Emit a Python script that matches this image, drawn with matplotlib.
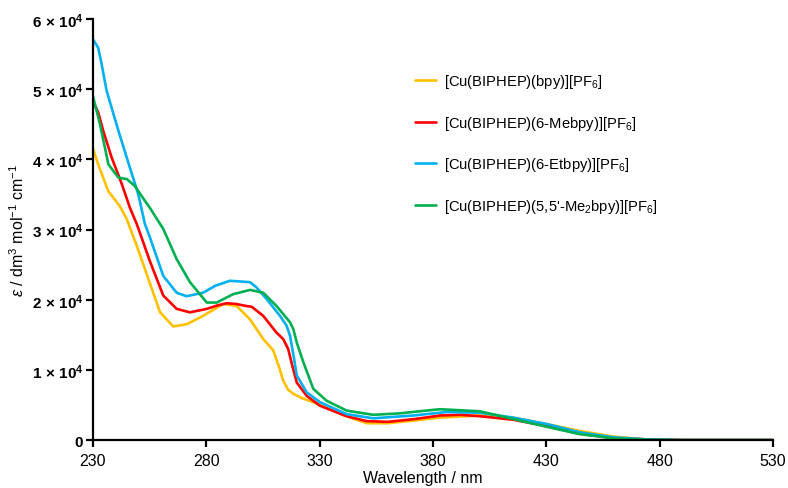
import matplotlib
matplotlib.use("Agg")
import matplotlib.pyplot as plt
import numpy as np

plt.rcParams['font.family'] = ['Liberation Sans', 'DejaVu Sans']
plt.rcParams['mathtext.fontset'] = 'custom'
plt.rcParams['mathtext.rm'] = 'Liberation Sans'
plt.rcParams['mathtext.it'] = 'Liberation Sans:italic'
plt.rcParams['mathtext.bf'] = 'Liberation Sans:bold'

labels = [
    "[Cu(BIPHEP)(bpy)][PF$_6$]",
    "[Cu(BIPHEP)(6-Mebpy)][PF$_6$]",
    "[Cu(BIPHEP)(6-Etbpy)][PF$_6$]",
    "[Cu(BIPHEP)(5,5'-Me$_2$bpy)][PF$_6$]",
]
colors = ['#FFC000', '#FF0000', '#00B0F0', '#00B050']

wl_bpy = [230, 232.3, 236.7, 241.9, 244.9, 249.3, 254.5, 259.6, 265.4, 271.3, 278.6, 287.5, 293.4, 299.3,
          305.1, 309.5, 312, 313.9, 316, 318.4, 322, 327.2, 340, 350.8, 360, 372, 383, 400.7, 415.4, 430,
          444.8, 459.5, 474, 490, 530]
eps_bpy = [4.15, 3.93, 3.55, 3.33, 3.15, 2.77, 2.29, 1.82, 1.62, 1.65, 1.77, 1.94, 1.91, 1.72,
           1.44, 1.28, 1.05, 0.85, 0.72, 0.66, 0.60, 0.54, 0.36, 0.24, 0.24, 0.28, 0.32, 0.35, 0.32, 0.23,
           0.13, 0.05, 0.01, 0, 0]

wl_me = [230, 232.3, 234.5, 238.2, 242.7, 246.3, 249.3, 255.1, 261, 266.9, 272.8, 280.2, 285, 289, 293,
         297.8, 300, 305.1, 311, 313.9, 316.1, 318, 319.9, 324.3, 330.1, 341.9, 350.8, 360, 372, 383,
         392, 400.7, 415.4, 430, 444.8, 459.5, 474, 490, 530]
eps_me = [4.83, 4.67, 4.41, 4.03, 3.65, 3.31, 3.08, 2.55, 2.06, 1.87, 1.82, 1.87, 1.92, 1.95, 1.94,
          1.91, 1.90, 1.77, 1.53, 1.44, 1.30, 1.05, 0.82, 0.63, 0.49, 0.34, 0.27, 0.26, 0.30, 0.35,
          0.36, 0.34, 0.29, 0.20, 0.09, 0.03, 0.01, 0, 0]

wl_et = [230, 232.3, 233.8, 236, 241.2, 246.3, 250, 252.9, 255.1, 261, 266.9, 271.3, 278.6, 284, 290.4,
         295, 299.3, 302, 306.6, 312.5, 315.4, 316.9, 318.5, 319.9, 324.3, 330.1, 341.9, 353.6, 371.3,
         386, 400.7, 415.4, 430, 444.8, 459.5, 474, 490, 530]
eps_et = [5.71, 5.59, 5.36, 4.98, 4.41, 3.88, 3.50, 3.08, 2.89, 2.34, 2.10, 2.05, 2.10, 2.20, 2.27,
          2.26, 2.25, 2.18, 2.01, 1.77, 1.63, 1.49, 1.20, 0.92, 0.68, 0.54, 0.37, 0.31, 0.35,
          0.40, 0.39, 0.32, 0.23, 0.11, 0.04, 0.01, 0, 0]

wl_me2 = [230, 233.1, 236.8, 241.2, 244.9, 248.5, 252.9, 255.1, 258.8, 261, 266.9, 272.8, 280.2, 284.6,
          291.9, 299.3, 305.1, 311, 316.9, 318.4, 319.9, 322.8, 327.2, 333.1, 341.9, 353.6, 365, 383,
          400.7, 415.4, 430, 444.8, 459.5, 474, 490, 530]
eps_me2 = [4.90, 4.50, 3.93, 3.74, 3.72, 3.62, 3.41, 3.31, 3.12, 3.01, 2.58, 2.25, 1.96, 1.96,
           2.08, 2.14, 2.10, 1.91, 1.68, 1.58, 1.39, 1.11, 0.73, 0.56, 0.42, 0.36, 0.38, 0.44,
           0.41, 0.30, 0.19, 0.085, 0.025, 0.005, 0, 0]

xticks = [230, 280, 330, 380, 430, 480, 530]
yticks = [0, 1e4, 2e4, 3e4, 4e4, 5e4, 6e4]
ytick_labels = ["0"] + [r"$\mathbf{%d\,\times\,10^{4}}$" % i for i in range(1, 7)]

fig = plt.figure(figsize=(7.88, 4.89), dpi=100)
ax = fig.add_axes([0.118, 0.098, 0.863, 0.861])

series = [(wl_bpy, eps_bpy), (wl_me, eps_me), (wl_et, eps_et), (wl_me2, eps_me2)]
for (w, e), c, lab in zip(series, colors, labels):
    ax.plot(w, np.array(e) * 1e4, color=c, lw=1.9, label=lab,
            solid_joinstyle='round', solid_capstyle='round')

ax.set_xlim(230, 530)
ax.set_ylim(0, 6e4)
ax.set_xticks(xticks)
ax.set_xticklabels([str(t) for t in xticks], fontsize=11.5)
ax.set_yticks(yticks)
ax.set_yticklabels(ytick_labels, fontsize=11, fontweight='bold')
for s in ['top', 'right']:
    ax.spines[s].set_visible(False)
for s in ['left', 'bottom']:
    ax.spines[s].set_linewidth(1.6)
ax.tick_params(axis='both', direction='out', length=5, width=1.6, colors='black')
ax.tick_params(axis='x', pad=4)
ax.tick_params(axis='y', pad=2)

ax.set_xlabel("Wavelength / nm", fontsize=11.5)
ax.xaxis.set_label_coords(0.485, -0.07)
ax.set_ylabel(r"$\it{\varepsilon}$ / dm$^3$ mol$^{-1}$ cm$^{-1}$", fontsize=11.5, labelpad=3)

leg = ax.legend(loc='upper left', bbox_to_anchor=(0.454, 0.905), frameon=False, fontsize=10.6,
                handlelength=1.4, handletextpad=0.6, labelspacing=1.6)

fig.savefig("out.png", dpi=100)
